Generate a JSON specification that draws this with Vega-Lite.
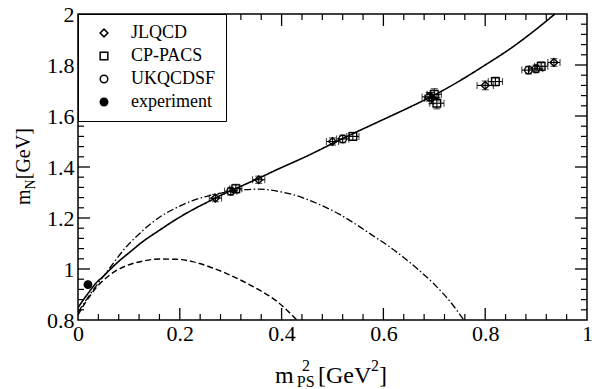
{
"$schema":"https://vega.github.io/schema/vega-lite/v6.json",
"width":509,"height":306,"autosize":"none",
"padding":{"left":78,"top":14,"right":5,"bottom":69},
"background":"white",
"config":{"view":{"stroke":"black","strokeWidth":1.5},"font":"Liberation Serif",
 "axis":{"grid":false,"domain":false,"ticks":false,"title":null,"labelFont":"Liberation Serif","labelFontSize":22,"labelColor":"black","labelFlush":false,"labelOverlap":false}},
"datasets":{
 "xmaj":[{"v":0.2},{"v":0.4},{"v":0.6},{"v":0.8}],
 "xmin":[{"v":0.04},{"v":0.08},{"v":0.12},{"v":0.16},{"v":0.24},{"v":0.28},{"v":0.32},{"v":0.36},{"v":0.44},{"v":0.48},{"v":0.52},{"v":0.56},{"v":0.64},{"v":0.68},{"v":0.72},{"v":0.76},{"v":0.84},{"v":0.88},{"v":0.92},{"v":0.96}],
 "ymaj":[{"v":1},{"v":1.2},{"v":1.4},{"v":1.6},{"v":1.8}],
 "ymin":[{"v":0.84},{"v":0.88},{"v":0.92},{"v":0.96},{"v":1.04},{"v":1.08},{"v":1.12},{"v":1.16},{"v":1.24},{"v":1.28},{"v":1.32},{"v":1.36},{"v":1.44},{"v":1.48},{"v":1.52},{"v":1.56},{"v":1.64},{"v":1.68},{"v":1.72},{"v":1.76},{"v":1.84},{"v":1.88},{"v":1.92},{"v":1.96}],
 "curves":[
  {"curve":"fit","x":0,"y":0.848},{"curve":"fit","x":0.01,"y":0.878},{"curve":"fit","x":0.02,"y":0.905},{"curve":"fit","x":0.035,"y":0.944},{"curve":"fit","x":0.05,"y":0.972},{"curve":"fit","x":0.062,"y":0.996},{"curve":"fit","x":0.08,"y":1.03},{"curve":"fit","x":0.1,"y":1.063},{"curve":"fit","x":0.127,"y":1.107},{"curve":"fit","x":0.16,"y":1.152},{"curve":"fit","x":0.193,"y":1.195},{"curve":"fit","x":0.225,"y":1.232},{"curve":"fit","x":0.258,"y":1.266},{"curve":"fit","x":0.29,"y":1.298},{"curve":"fit","x":0.324,"y":1.328},{"curve":"fit","x":0.355,"y":1.356},{"curve":"fit","x":0.389,"y":1.388},{"curve":"fit","x":0.45,"y":1.443},{"curve":"fit","x":0.5,"y":1.492},{"curve":"fit","x":0.55,"y":1.54},{"curve":"fit","x":0.593,"y":1.58},{"curve":"fit","x":0.65,"y":1.633},{"curve":"fit","x":0.7,"y":1.682},{"curve":"fit","x":0.75,"y":1.738},{"curve":"fit","x":0.8,"y":1.8},{"curve":"fit","x":0.85,"y":1.865},{"curve":"fit","x":0.9,"y":1.94},{"curve":"fit","x":0.937,"y":2.0},
  {"curve":"p4","x":0,"y":0.83},{"curve":"p4","x":0.02,"y":0.89},{"curve":"p4","x":0.04,"y":0.945},{"curve":"p4","x":0.062,"y":1.003},{"curve":"p4","x":0.094,"y":1.085},{"curve":"p4","x":0.127,"y":1.15},{"curve":"p4","x":0.16,"y":1.203},{"curve":"p4","x":0.193,"y":1.24},{"curve":"p4","x":0.225,"y":1.268},{"curve":"p4","x":0.258,"y":1.288},{"curve":"p4","x":0.291,"y":1.302},{"curve":"p4","x":0.324,"y":1.311},{"curve":"p4","x":0.356,"y":1.313},{"curve":"p4","x":0.389,"y":1.306},{"curve":"p4","x":0.42,"y":1.293},{"curve":"p4","x":0.45,"y":1.273},{"curve":"p4","x":0.48,"y":1.248},{"curve":"p4","x":0.515,"y":1.213},{"curve":"p4","x":0.55,"y":1.17},{"curve":"p4","x":0.58,"y":1.13},{"curve":"p4","x":0.61,"y":1.09},{"curve":"p4","x":0.64,"y":1.045},{"curve":"p4","x":0.67,"y":0.995},{"curve":"p4","x":0.7,"y":0.94},{"curve":"p4","x":0.73,"y":0.875},{"curve":"p4","x":0.758,"y":0.8},
  {"curve":"p3","x":0,"y":0.82},{"curve":"p3","x":0.02,"y":0.885},{"curve":"p3","x":0.035,"y":0.925},{"curve":"p3","x":0.062,"y":0.976},{"curve":"p3","x":0.094,"y":1.012},{"curve":"p3","x":0.127,"y":1.031},{"curve":"p3","x":0.16,"y":1.039},{"curve":"p3","x":0.193,"y":1.038},{"curve":"p3","x":0.225,"y":1.029},{"curve":"p3","x":0.258,"y":1.009},{"curve":"p3","x":0.291,"y":0.983},{"curve":"p3","x":0.324,"y":0.952},{"curve":"p3","x":0.356,"y":0.918},{"curve":"p3","x":0.389,"y":0.876},{"curve":"p3","x":0.43,"y":0.8}
 ],
 "pts":[
  {"set":"JLQCD","x":0.27,"y":1.278,"xlo":0.258,"xhi":0.282,"ylo":1.264,"yhi":1.292},
  {"set":"JLQCD","x":0.355,"y":1.35,"xlo":0.343,"xhi":0.367,"ylo":1.336,"yhi":1.364},
  {"set":"JLQCD","x":0.5,"y":1.5,"xlo":0.488,"xhi":0.512,"ylo":1.486,"yhi":1.514},
  {"set":"JLQCD","x":0.695,"y":1.67,"xlo":0.681,"xhi":0.709,"ylo":1.648,"yhi":1.692},
  {"set":"JLQCD","x":0.8,"y":1.72,"xlo":0.784,"xhi":0.816,"ylo":1.703,"yhi":1.737},
  {"set":"JLQCD","x":0.935,"y":1.81,"xlo":0.923,"xhi":0.947,"ylo":1.795,"yhi":1.825},
  {"set":"CP-PACS","x":0.31,"y":1.315,"xlo":0.298,"xhi":0.322,"ylo":1.298,"yhi":1.332},
  {"set":"CP-PACS","x":0.54,"y":1.52,"xlo":0.528,"xhi":0.552,"ylo":1.504,"yhi":1.536},
  {"set":"CP-PACS","x":0.7,"y":1.685,"xlo":0.686,"xhi":0.714,"ylo":1.663,"yhi":1.707},
  {"set":"CP-PACS","x":0.705,"y":1.65,"xlo":0.691,"xhi":0.719,"ylo":1.628,"yhi":1.672},
  {"set":"CP-PACS","x":0.82,"y":1.735,"xlo":0.806,"xhi":0.834,"ylo":1.718,"yhi":1.752},
  {"set":"CP-PACS","x":0.91,"y":1.795,"xlo":0.897,"xhi":0.923,"ylo":1.778,"yhi":1.812},
  {"set":"UKQCDSF","x":0.3,"y":1.305,"xlo":0.288,"xhi":0.312,"ylo":1.29,"yhi":1.32},
  {"set":"UKQCDSF","x":0.52,"y":1.51,"xlo":0.508,"xhi":0.532,"ylo":1.495,"yhi":1.525},
  {"set":"UKQCDSF","x":0.69,"y":1.675,"xlo":0.676,"xhi":0.704,"ylo":1.658,"yhi":1.692},
  {"set":"UKQCDSF","x":0.885,"y":1.78,"xlo":0.872,"xhi":0.898,"ylo":1.765,"yhi":1.795},
  {"set":"UKQCDSF","x":0.9,"y":1.785,"xlo":0.887,"xhi":0.913,"ylo":1.77,"yhi":1.8},
  {"set":"experiment","x":0.0195,"y":0.939,"xlo":0.0195,"xhi":0.0195,"ylo":0.939,"yhi":0.939}
 ]
},
"layer":[
 {"data":{"name":"curves"},
  "mark":{"type":"line","interpolate":"monotone","clip":true,"color":"black"},
  "encoding":{
   "x":{"field":"x","type":"quantitative","title":null,"scale":{"domain":[0,1],"nice":false,"zero":false},
    "axis":{"title":null,"orient":"bottom","values":[0,0.2,0.4,0.6,0.8,1],"format":"~g","labelPadding":3}},
   "y":{"field":"y","type":"quantitative","title":null,"scale":{"domain":[0.8,2],"nice":false,"zero":false},
    "axis":{"title":null,"orient":"left","values":[0.8,1,1.2,1.4,1.6,1.8,2],"format":"~g","labelPadding":4}},
   "strokeDash":{"field":"curve","type":"nominal","scale":{"domain":["fit","p3","p4"],"range":[[1,0],[6,3],[7,2.5,1.5,2.5]]},"legend":null},
   "strokeWidth":{"field":"curve","type":"nominal","scale":{"domain":["fit","p3","p4"],"range":[1.6,1.3,1.3]},"legend":null}
  }},
 {"data":{"name":"xmaj"},"mark":{"type":"rule","color":"black","strokeWidth":1.3},
  "encoding":{"x":{"field":"v","type":"quantitative","title":null},"y":{"datum":0.8,"type":"quantitative","title":null},"y2":{"datum":0.847}}},
 {"data":{"name":"xmaj"},"mark":{"type":"rule","color":"black","strokeWidth":1.3},
  "encoding":{"x":{"field":"v","type":"quantitative","title":null},"y":{"datum":2,"type":"quantitative","title":null},"y2":{"datum":1.953}}},
 {"data":{"name":"xmin"},"mark":{"type":"rule","color":"black","strokeWidth":1.2},
  "encoding":{"x":{"field":"v","type":"quantitative","title":null},"y":{"datum":0.8,"type":"quantitative","title":null},"y2":{"datum":0.8235}}},
 {"data":{"name":"xmin"},"mark":{"type":"rule","color":"black","strokeWidth":1.2},
  "encoding":{"x":{"field":"v","type":"quantitative","title":null},"y":{"datum":2,"type":"quantitative","title":null},"y2":{"datum":1.9765}}},
 {"data":{"name":"ymaj"},"mark":{"type":"rule","color":"black","strokeWidth":1.3},
  "encoding":{"y":{"field":"v","type":"quantitative","title":null},"x":{"datum":0,"type":"quantitative","title":null},"x2":{"datum":0.0236}}},
 {"data":{"name":"ymaj"},"mark":{"type":"rule","color":"black","strokeWidth":1.3},
  "encoding":{"y":{"field":"v","type":"quantitative","title":null},"x":{"datum":1,"type":"quantitative","title":null},"x2":{"datum":0.9764}}},
 {"data":{"name":"ymin"},"mark":{"type":"rule","color":"black","strokeWidth":1.2},
  "encoding":{"y":{"field":"v","type":"quantitative","title":null},"x":{"datum":0,"type":"quantitative","title":null},"x2":{"datum":0.0118}}},
 {"data":{"name":"ymin"},"mark":{"type":"rule","color":"black","strokeWidth":1.2},
  "encoding":{"y":{"field":"v","type":"quantitative","title":null},"x":{"datum":1,"type":"quantitative","title":null},"x2":{"datum":0.9882}}},
 {"data":{"name":"pts"},"transform":[{"filter":"datum.set != 'experiment'"}],
  "mark":{"type":"errorbar","ticks":{"size":7,"color":"black","thickness":1.1},"rule":{"color":"black","strokeWidth":1.1}},
  "encoding":{"x":{"field":"xlo","type":"quantitative","title":null},"x2":{"field":"xhi"},"y":{"field":"y","type":"quantitative","title":null}}},
 {"data":{"name":"pts"},"transform":[{"filter":"datum.set != 'experiment'"}],
  "mark":{"type":"errorbar","ticks":{"size":7,"color":"black","thickness":1.1},"rule":{"color":"black","strokeWidth":1.1}},
  "encoding":{"y":{"field":"ylo","type":"quantitative","title":null},"y2":{"field":"yhi"},"x":{"field":"x","type":"quantitative","title":null}}},
 {"data":{"name":"pts"},
  "mark":{"type":"point","stroke":"black","strokeWidth":1.4,"opacity":1},
  "encoding":{
   "x":{"field":"x","type":"quantitative","title":null},
   "y":{"field":"y","type":"quantitative","title":null},
   "shape":{"field":"set","type":"nominal","title":null,"scale":{"domain":["JLQCD","CP-PACS","UKQCDSF","experiment"],"range":["diamond","square","circle","circle"]},
    "legend":{"orient":"none","legendX":0,"legendY":0,"strokeColor":"black","fillColor":"white","padding":10,"symbolOffset":7,"labelFont":"Liberation Serif","labelFontSize":18,"labelColor":"black","rowPadding":5,"labelOffset":18,"zindex":3,
     "encode":{"symbols":{"update":{"stroke":{"value":"black"},"strokeWidth":{"value":1.3}}}}}},
   "fill":{"field":"set","type":"nominal","title":null,"scale":{"domain":["JLQCD","CP-PACS","UKQCDSF","experiment"],"range":["transparent","transparent","transparent","black"]},
    "legend":{"orient":"none","legendX":0,"legendY":0,"strokeColor":"black","fillColor":"white","padding":10,"symbolOffset":7,"labelFont":"Liberation Serif","labelFontSize":18,"labelColor":"black","rowPadding":5,"labelOffset":18,"zindex":3,
     "encode":{"symbols":{"update":{"stroke":{"value":"black"},"strokeWidth":{"value":1.3}}}}}},
   "size":{"field":"set","type":"nominal","title":null,"scale":{"domain":["JLQCD","CP-PACS","UKQCDSF","experiment"],"range":[60,55,60,80]},
    "legend":{"orient":"none","legendX":0,"legendY":0,"strokeColor":"black","fillColor":"white","padding":10,"symbolOffset":7,"labelFont":"Liberation Serif","labelFontSize":18,"labelColor":"black","rowPadding":5,"labelOffset":18,"zindex":3,
     "encode":{"symbols":{"update":{"stroke":{"value":"black"},"strokeWidth":{"value":1.3}}}}}}
  }},
 {"data":{"values":[{}]},"mark":{"type":"text","text":"m","fontSize":24,"align":"left","baseline":"alphabetic","font":"Liberation Serif","color":"black"},
  "encoding":{"x":{"datum":0.387,"type":"quantitative","title":null},"y":{"datum":0.553,"type":"quantitative","title":null}}},
 {"data":{"values":[{}]},"mark":{"type":"text","text":"PS","fontSize":16,"align":"left","baseline":"alphabetic","font":"Liberation Serif","color":"black"},
  "encoding":{"x":{"datum":0.43,"type":"quantitative","title":null},"y":{"datum":0.537,"type":"quantitative","title":null}}},
 {"data":{"values":[{}]},"mark":{"type":"text","text":"2","fontSize":16,"align":"left","baseline":"alphabetic","font":"Liberation Serif","color":"black"},
  "encoding":{"x":{"datum":0.44,"type":"quantitative","title":null},"y":{"datum":0.6,"type":"quantitative","title":null}}},
 {"data":{"values":[{}]},"mark":{"type":"text","text":"[GeV","fontSize":24,"align":"left","baseline":"alphabetic","font":"Liberation Serif","color":"black"},
  "encoding":{"x":{"datum":0.4715,"type":"quantitative","title":null},"y":{"datum":0.553,"type":"quantitative","title":null}}},
 {"data":{"values":[{}]},"mark":{"type":"text","text":"2","fontSize":16,"align":"left","baseline":"alphabetic","font":"Liberation Serif","color":"black"},
  "encoding":{"x":{"datum":0.5756,"type":"quantitative","title":null},"y":{"datum":0.6,"type":"quantitative","title":null}}},
 {"data":{"values":[{}]},"mark":{"type":"text","text":"]","fontSize":24,"align":"left","baseline":"alphabetic","font":"Liberation Serif","color":"black"},
  "encoding":{"x":{"datum":0.5914,"type":"quantitative","title":null},"y":{"datum":0.553,"type":"quantitative","title":null}}},
 {"data":{"values":[{}]},"mark":{"type":"text","text":"m","fontSize":20,"angle":270,"align":"left","baseline":"alphabetic","font":"Liberation Serif","color":"black"},
  "encoding":{"x":{"datum":-0.0943,"type":"quantitative","title":null},"y":{"datum":1.251,"type":"quantitative","title":null}}},
 {"data":{"values":[{}]},"mark":{"type":"text","text":"N","fontSize":14,"angle":270,"align":"left","baseline":"alphabetic","font":"Liberation Serif","color":"black"},
  "encoding":{"x":{"datum":-0.0845,"type":"quantitative","title":null},"y":{"datum":1.312,"type":"quantitative","title":null}}},
 {"data":{"values":[{}]},"mark":{"type":"text","text":"[GeV]","fontSize":20,"angle":270,"align":"left","baseline":"alphabetic","font":"Liberation Serif","color":"black"},
  "encoding":{"x":{"datum":-0.0943,"type":"quantitative","title":null},"y":{"datum":1.352,"type":"quantitative","title":null}}}
]
}
